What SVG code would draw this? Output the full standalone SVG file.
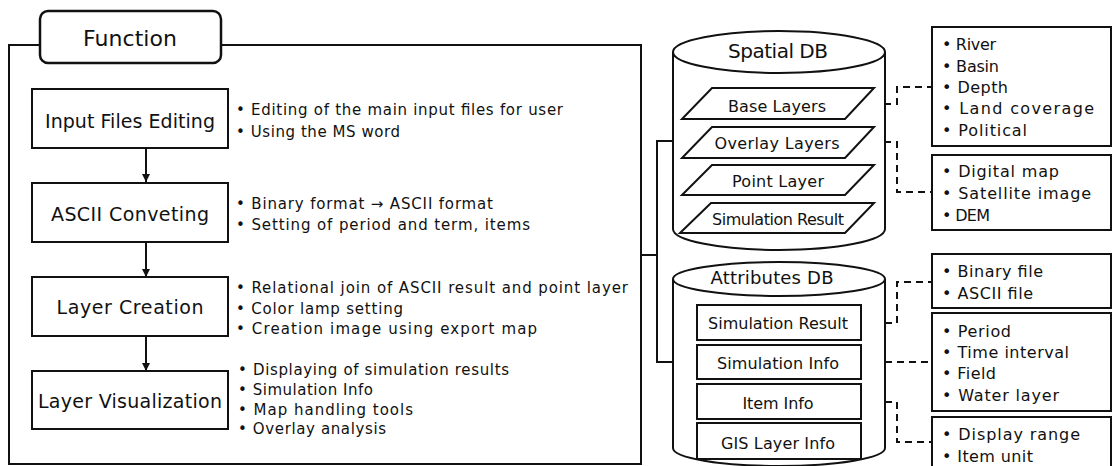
<svg xmlns="http://www.w3.org/2000/svg" width="1113" height="466" viewBox="0 0 1113 466">
<style>
text{font-family:"DejaVu Sans","Liberation Sans",sans-serif;fill:#111}
.box{fill:#fff;stroke:#111;stroke-width:2}
.lbl{font-size:19px;text-anchor:middle}
.bul{font-size:15px}
.rb{font-size:16px}
.cyl{font-size:16px;text-anchor:middle}
.title{font-size:20px;text-anchor:middle}
.ln{fill:none;stroke:#111;stroke-width:2}
.dash{fill:none;stroke:#111;stroke-width:2;stroke-dasharray:7 5}
</style>
<defs>
<marker id="ah" viewBox="0 0 10 10" refX="10" refY="5" markerWidth="8" markerHeight="8" markerUnits="userSpaceOnUse" orient="auto">
<path d="M0,0 L10,5 L0,10 z" fill="#111"/>
</marker>
</defs>
<rect width="1113" height="466" fill="#fff"/>

<g id="frame">
<rect x="9" y="45" width="632" height="419" fill="none" stroke="#111" stroke-width="2"/>
</g>
<g id="function-tab">
<rect x="40" y="11" width="181" height="52" rx="8" fill="#fff" stroke="#111" stroke-width="2.5"/>
<text class="title" x="130" y="46" style="font-size:22px" textLength="94" lengthAdjust="spacing">Function</text>
</g>

<g id="connectors">
<line class="ln" x1="146" y1="148" x2="146" y2="182" marker-end="url(#ah)"/>
<line class="ln" x1="146" y1="242" x2="146" y2="277" marker-end="url(#ah)"/>
<line class="ln" x1="146" y1="336" x2="146" y2="371" marker-end="url(#ah)"/>
<polyline class="ln" points="641,255 657,255"/>
<polyline class="ln" points="673,141 657,141 657,362 673,362"/>
<polyline class="dash" points="860,104 897,104 897,87 932,87"/>
<polyline class="dash" points="860,142 897,142 897,192 932,192"/>
<polyline class="dash" points="861,323 897,323 897,282 932,282"/>
<polyline class="dash" points="861,362 932,362"/>
<polyline class="dash" points="861,402 897,402 897,442 932,442"/>
</g>

<g id="input-files-editing">
<rect class="box" x="32" y="89" width="196" height="59"/>
<text class="lbl" x="130" y="128" textLength="170" lengthAdjust="spacing">Input Files Editing</text>
<text class="bul" x="236" y="115" textLength="327" lengthAdjust="spacing">• Editing of the main input files for user</text>
<text class="bul" x="236" y="137" textLength="164" lengthAdjust="spacing">• Using the MS word</text>
</g>
<g id="ascii-conveting">
<rect class="box" x="32" y="183" width="196" height="59"/>
<text class="lbl" x="130" y="221" textLength="158" lengthAdjust="spacing">ASCII Conveting</text>
<text class="bul" x="236" y="209" textLength="257" lengthAdjust="spacing">• Binary format → ASCII format</text>
<text class="bul" x="236" y="230" textLength="294" lengthAdjust="spacing">• Setting of period and term, items</text>
</g>
<g id="layer-creation">
<rect class="box" x="32" y="277" width="196" height="59"/>
<text class="lbl" x="130" y="314" textLength="147" lengthAdjust="spacing">Layer Creation</text>
<text class="bul" x="236" y="293" textLength="392" lengthAdjust="spacing">• Relational join of ASCII result and point layer</text>
<text class="bul" x="236" y="314" textLength="167" lengthAdjust="spacing">• Color lamp setting</text>
<text class="bul" x="236" y="334" textLength="301" lengthAdjust="spacing">• Creation image using export map</text>
</g>
<g id="layer-visualization">
<rect class="box" x="32" y="371" width="196" height="58"/>
<text class="lbl" x="130" y="408" textLength="184" lengthAdjust="spacing">Layer Visualization</text>
<text class="bul" x="238" y="375" textLength="271" lengthAdjust="spacing">• Displaying of simulation results</text>
<text class="bul" x="238" y="395" textLength="135" lengthAdjust="spacing">• Simulation Info</text>
<text class="bul" x="238" y="415" textLength="175" lengthAdjust="spacing">• Map handling tools</text>
<text class="bul" x="238" y="434" textLength="148" lengthAdjust="spacing">• Overlay analysis</text>
</g>

<g id="spatial-db">
<path d="M673,52 L673,229 A106,21 0 0 0 885,229 L885,52" fill="#fff" stroke="#111" stroke-width="2"/>
<ellipse cx="779" cy="52" rx="106" ry="21" fill="#fff" stroke="#111" stroke-width="2"/>
<text class="title" x="778" y="58" textLength="100" lengthAdjust="spacing">Spatial DB</text>
<polygon points="712,88 874,88 845,119 682,119" fill="#fff" stroke="#111" stroke-width="2"/>
<text class="cyl" x="777" y="112" textLength="98" lengthAdjust="spacing">Base Layers</text>
<polygon points="712,127 874,127 845,158 682,158" fill="#fff" stroke="#111" stroke-width="2"/>
<text class="cyl" x="777" y="149" textLength="125" lengthAdjust="spacing">Overlay Layers</text>
<polygon points="712,165 874,165 845,195 682,195" fill="#fff" stroke="#111" stroke-width="2"/>
<text class="cyl" x="778" y="187" textLength="92" lengthAdjust="spacing">Point Layer</text>
<polygon points="711,203 874,203 845,233 680,233" fill="#fff" stroke="#111" stroke-width="2"/>
<text class="cyl" x="778" y="225" textLength="132" lengthAdjust="spacing">Simulation Result</text>
</g>

<g id="attributes-db">
<path d="M673,279 L673,448 A106,18 0 0 0 885,448 L885,279" fill="#fff" stroke="#111" stroke-width="2"/>
<ellipse cx="779" cy="279" rx="106" ry="17" fill="#fff" stroke="#111" stroke-width="2"/>
<text class="title" x="772" y="284" style="font-size:18px" textLength="123" lengthAdjust="spacing">Attributes DB</text>
<rect class="box" x="697" y="305" width="164" height="35"/>
<text class="cyl" x="778" y="329" textLength="140" lengthAdjust="spacing">Simulation Result</text>
<rect class="box" x="697" y="345" width="164" height="34"/>
<text class="cyl" x="778" y="369" textLength="122" lengthAdjust="spacing">Simulation Info</text>
<rect class="box" x="697" y="384" width="164" height="35"/>
<text class="cyl" x="778" y="409" textLength="71" lengthAdjust="spacing">Item Info</text>
<rect class="box" x="697" y="423" width="164" height="36"/>
<text class="cyl" x="778" y="449" textLength="114" lengthAdjust="spacing">GIS Layer Info</text>
</g>

<g id="base-layers-list">
<rect class="box" x="932" y="27" width="179" height="119"/>
<text class="rb" x="942" y="50" textLength="54" lengthAdjust="spacing">• River</text>
<text class="rb" x="942" y="72" textLength="57" lengthAdjust="spacing">• Basin</text>
<text class="rb" x="942" y="93" textLength="66" lengthAdjust="spacing">• Depth</text>
<text class="rb" x="942" y="114" textLength="152" lengthAdjust="spacing">• Land coverage</text>
<text class="rb" x="942" y="136" textLength="85" lengthAdjust="spacing">• Political</text>
</g>
<g id="overlay-layers-list">
<rect class="box" x="932" y="155" width="179" height="75"/>
<text class="rb" x="942" y="177" textLength="117" lengthAdjust="spacing">• Digital map</text>
<text class="rb" x="942" y="199" textLength="149" lengthAdjust="spacing">• Satellite image</text>
<text class="rb" x="942" y="221" textLength="48" lengthAdjust="spacing">• DEM</text>
</g>
<g id="simulation-result-list">
<rect class="box" x="932" y="254" width="179" height="54"/>
<text class="rb" x="942" y="277" textLength="101" lengthAdjust="spacing">• Binary file</text>
<text class="rb" x="942" y="299" textLength="91" lengthAdjust="spacing">• ASCII file</text>
</g>
<g id="simulation-info-list">
<rect class="box" x="932" y="313" width="179" height="98"/>
<text class="rb" x="942" y="337" textLength="69" lengthAdjust="spacing">• Period</text>
<text class="rb" x="942" y="358" textLength="127" lengthAdjust="spacing">• Time interval</text>
<text class="rb" x="942" y="379" textLength="54" lengthAdjust="spacing">• Field</text>
<text class="rb" x="942" y="401" textLength="117" lengthAdjust="spacing">• Water layer</text>
</g>
<g id="item-info-list">
<rect class="box" x="932" y="417" width="179" height="60"/>
<text class="rb" x="942" y="440" textLength="138" lengthAdjust="spacing">• Display range</text>
<text class="rb" x="942" y="462" textLength="91" lengthAdjust="spacing">• Item unit</text>
</g>
</svg>
